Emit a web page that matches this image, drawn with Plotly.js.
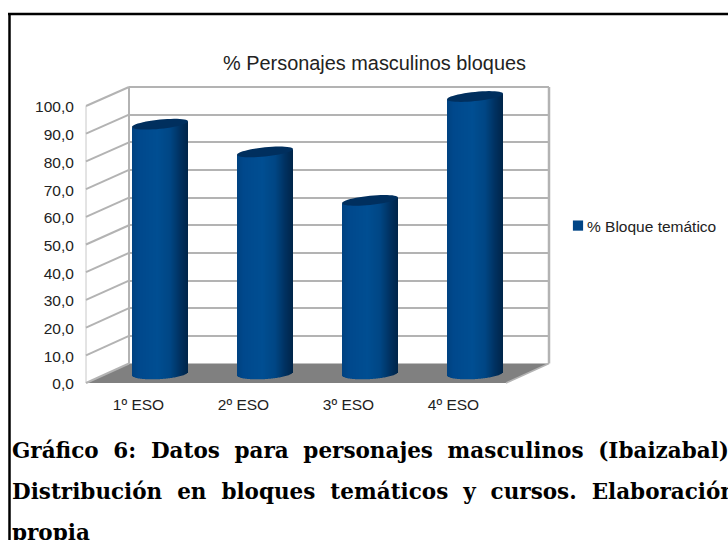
<!DOCTYPE html>
<html><head><meta charset="utf-8">
<script src="https://cdn.plot.ly/plotly-3.0.1.min.js"></script>
<style>html,body{margin:0;padding:0;background:#fff;overflow:hidden}</style>
</head><body><div id="chart" style="width:728px;height:540px"></div>
<script>
const categories = ['1º ESO','2º ESO','3º ESO','4º ESO'];
const seriesName = '% Bloque temático';
const values = [90, 80, 62.5, 100];
const yTicks = [0,10,20,30,40,50,60,70,80,90,100];
const chartTitle = '% Personajes masculinos bloques';
const captionLines = [
  'Gráfico 6: Datos para personajes masculinos (Ibaizabal)',
  'Distribución en bloques temáticos y cursos. Elaboración',
  'propia'
];
const W = 728, H = 540;
const px = x => x / W, py = y => 1 - y / H;
const dom = (a, b) => [px(a), px(b)];
const domY = (top, bot) => [py(bot), py(top)];

// depth frame
const back = {l:129, r:549, t:87, b:363.5};
const front = {l:86, r:506, t:106, b:383};
const gridC = '#b3b3b3';

// cylinder axis: pixel scale
const unitX = 105, unitY = 2.77, cx0 = 160, y0 = 373.5;
const cylL = 107, cylR = 528, cylBot = 392, cylT = 80;
const cylXRange = [(cylL-cx0)/unitX, (cylR-cx0)/unitX];
const cylYRange = [(y0-cylBot)/unitY, (y0-cylT)/unitY];

const stops = [[0,[0,66,128]],[0.12,[0,72,140]],[0.45,[0,78,146]],[0.68,[0,70,132]],[0.85,[0,50,98]],[1,[0,36,72]]];
function shade(u){
  for(let i=1;i<stops.length;i++){
    if(u<=stops[i][0]){
      const a=stops[i-1],b=stops[i],t=(u-a[0])/(b[0]-a[0]);
      const c=a[1].map((v,k)=>Math.round(v+(b[1][k]-v)*t));
      return `rgb(${c[0]},${c[1]},${c[2]})`;
    }
  }
  return 'rgb(0,36,72)';
}
const halfW = 28, ryPx = 4.6, tiltPx = 2.8;
const sx=[], sb=[], sy=[], sw=[], sc=[];
values.forEach((v,i)=>{
  for(let p=-halfW;p<halfW;p++){
    const u=(p+0.5)/halfW;
    const curve=Math.sqrt(1-u*u)*5.6/unitY, tilt=u*tiltPx/unitY;
    const base=-curve+tilt*0.6;
    const top=v+tilt-Math.sqrt(1-u*u)*ryPx*0.3/unitY;
    sx.push(i+(p+0.5)/unitX); sb.push(base); sy.push(top-base); sw.push(1/unitX); sc.push(shade((u+1)/2));
  }
});
function ellipsePath(i,v){
  let d='';
  for(let k=0;k<=48;k++){
    const t=k/48*2*Math.PI, c=Math.cos(t), s=Math.sin(t);
    const x=i+c*halfW/unitX, y=v+(s*ryPx+c*tiltPx)/unitY;
    d+=(k?'L':'M')+x.toFixed(4)+','+y.toFixed(3);
  }
  return d+'Z';
}

const carrierMarker={opacity:0,size:1};
const traces=[
  {type:'scatter',mode:'markers',x:categories,y:values,marker:carrierMarker,xaxis:'x',yaxis:'y',showlegend:false,hoverinfo:'skip'},
  {type:'bar',name:seriesName,x:[0,1,2,3],y:values,width:0.25,marker:{color:'#004586'},xaxis:'x2',yaxis:'y2',showlegend:true},
  {type:'bar',x:sx,y:sy,base:sb,width:sw,marker:{color:sc,line:{width:0}},xaxis:'x2',yaxis:'y2',showlegend:false,hoverinfo:'skip'},
  {type:'scatter',mode:'markers',x:categories,y:values,marker:carrierMarker,xaxis:'x3',yaxis:'y3',showlegend:false,hoverinfo:'skip'}
];

const line=(x0,y0,x1,y1,color,width)=>({type:'line',xref:'paper',yref:'paper',x0:px(x0),y0:py(y0),x1:px(x1),y1:py(y1),line:{color,width},layer:'below'});
const poly=(pts,fill,lc)=>({type:'path',xref:'paper',yref:'paper',layer:'below',fillcolor:fill,line:{color:lc||fill,width:lc?1:0},
  path:'M'+pts.map(p=>px(p[0])+','+py(p[1])).join('L')+'Z'});
const shapes=[
  poly([[front.l,front.b],[back.l,back.b],[back.r,back.b],[front.r,front.b]],'#808080'),
  line(back.l,back.t,back.r,back.t,gridC,2),
  line(back.l,back.t,back.l,back.b,gridC,2),
  line(back.r,back.t,back.r,back.b,gridC,2.5),
  line(back.r,back.b,front.r,front.b,gridC,1.5),
  line(front.l,front.t,front.l,front.b,'#c8c8c8',1),
];
yTicks.forEach(t=>{
  const f=front.b-(front.b-front.t)*t/100, b=back.b-(back.b-back.t)*t/100;
  shapes.push(line(front.l,f,back.l,b,gridC,2));
});
values.forEach((v,i)=>shapes.push({type:'path',xref:'x2',yref:'y2',layer:'above',path:ellipsePath(i,v),fillcolor:'#002f5e',line:{width:0}}));
// frame
shapes.push({type:'line',xref:'paper',yref:'paper',x0:px(8),y0:py(14),x1:1,y1:py(14),line:{color:'#000',width:2.5}});
shapes.push({type:'line',xref:'paper',yref:'paper',x0:px(9.5),y0:py(13),x1:px(9.5),y1:0,line:{color:'#000',width:2.5}});

const capY=[450,491,532];
const capWidth=[717,724,0];
const annotations=captionLines.map((t,i)=>({xref:'paper',yref:'paper',x:px(9.5),y:py(capY[i]),xanchor:'left',yanchor:'middle',align:'left',showarrow:false,text:t,
  font:{family:'DejaVu Serif',size:21.5,weight:700,color:'#000'}}));

const tickFont={family:'Liberation Sans',size:15.5,color:'#222'};
const layout={
  width:W,height:H,autosize:false,margin:{l:0,r:0,t:0,b:0,pad:0},paper_bgcolor:'#fff',plot_bgcolor:'rgba(0,0,0,0)',
  separators:',.',barmode:'overlay',hovermode:false,
  font:{family:'Liberation Sans',color:'#222',size:15.5},
  title:{text:chartTitle,font:{family:'Liberation Sans',size:19.9,color:'#222'},x:px(374.5),xanchor:'center',y:py(63),yanchor:'middle'},
  xaxis:{domain:dom(back.l,back.r),type:'category',visible:false,anchor:'y',fixedrange:true},
  yaxis:{domain:domY(back.t,back.b),range:[0,100],anchor:'x',showgrid:true,gridcolor:gridC,gridwidth:2,showticklabels:false,zeroline:false,showline:false,ticks:'',tickvals:yTicks,fixedrange:true},
  xaxis2:{domain:dom(cylL,cylR),range:cylXRange,visible:false,anchor:'y2',fixedrange:true},
  yaxis2:{domain:domY(cylT,cylBot),range:cylYRange,visible:false,anchor:'x2',fixedrange:true},
  xaxis3:{domain:dom(front.l,front.r),type:'category',categoryarray:categories,range:[-0.5,3.5],anchor:'y3',showgrid:false,zeroline:false,showline:false,ticks:'outside',ticklen:6,tickcolor:'rgba(0,0,0,0)',tickfont:tickFont,fixedrange:true},
  yaxis3:{domain:domY(front.t+1,front.b+1),range:[0,100],anchor:'x3',tickvals:yTicks,tickformat:'.1f',showgrid:false,zeroline:false,showline:false,ticks:'outside',ticklen:8,tickcolor:'rgba(0,0,0,0)',tickfont:tickFont,fixedrange:true},
  legend:{x:px(547),xanchor:'left',y:py(226),yanchor:'middle',bgcolor:'rgba(0,0,0,0)',font:tickFont,itemclick:false,itemdoubleclick:false},
  shapes,annotations
};
Plotly.newPlot('chart',traces,layout,{displayModeBar:false}).then(gd=>{
  // legend swatch sits right next to its label, as in the source chart
  gd.querySelectorAll('.legend .legendpoints').forEach(n=>n.setAttribute('transform','translate(14,0) scale(0.85)'));
  // caption lines are justified in the source
  gd.querySelectorAll('.annotation-text').forEach((n,i)=>{
    if(!capWidth[i]) return;
    const gaps=captionLines[i].split(' ').length-1;
    n.style.wordSpacing=((capWidth[i]-n.getComputedTextLength())/gaps)+'px';
  });
});
</script></body></html>
